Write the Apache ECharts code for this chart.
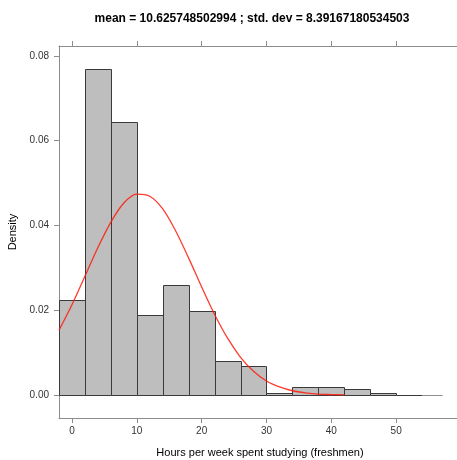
<!DOCTYPE html>
<html>
<head>
<meta charset="utf-8">
<script src="https://cdn.jsdelivr.net/npm/echarts@6/dist/echarts.min.js"></script>
<style>html,body{margin:0;padding:0;background:#fff;overflow:hidden;}#c{width:457px;height:460px;}</style>
</head>
<body>
<div id="c"></div>
<script>
// Histogram bins (hours per week) and densities
var binStarts = [-2, 2, 6, 10, 14, 18, 22, 26, 30, 34, 38, 42, 46, 50, 54];
var binEnds   = [ 2, 6, 10, 14, 18, 22, 26, 30, 34, 38, 42, 46, 50, 54, 57];
var densities = [0.0224, 0.0769, 0.0644, 0.0189, 0.0260, 0.0199, 0.0080, 0.0069, 0.0005, 0.0020, 0.0020, 0.0015, 0.0004, 0, 0];

// Red density curve
var curveX = [-2, 0, 2, 4, 6, 8, 10, 12, 14, 16, 18, 20, 22, 24, 26, 28, 30, 32, 34, 36, 38, 40, 42];
var curveY = [0.0153, 0.0213, 0.0280, 0.0348, 0.0408, 0.0453, 0.0474, 0.0469, 0.0439, 0.0387, 0.0323, 0.0255, 0.0190, 0.0134, 0.0089, 0.0056, 0.0033, 0.0019, 0.0010, 0.0005, 0.0002, 0.0001, 0.00004];

var xTicks = [0, 10, 20, 30, 40, 50];
var yTicks = [0, 0.02, 0.04, 0.06, 0.08];

var titleText = 'mean = 10.625748502994 ; std. dev = 8.39167180534503';
var xName = 'Hours per week spent studying (freshmen)';
var yName = 'Density';

var histData = binStarts.map(function (s, i) { return [s, binEnds[i], densities[i]]; });
var curveData = curveX.map(function (x, i) { return [x, curveY[i]]; });

var chart = echarts.init(document.getElementById('c'), null, {renderer: 'canvas'});
var font = 'Liberation Sans, Arial, Helvetica, sans-serif';
var axisCol = '#8c8c8c';
chart.setOption({
  animation: false,
  backgroundColor: '#ffffff',
  title: {
    text: titleText, left: 247, top: 8, textAlign: 'center',
    textStyle: {fontFamily: font, fontSize: 12, fontWeight: 'bold', color: '#000'}
  },
  grid: {left: 59, top: 46, right: -4, bottom: 42, containLabel: false, outerBoundsMode: 'none'},
  xAxis: [{
    type: 'value', min: -2, max: 60, position: 'bottom',
    splitLine: {show: false},
    axisLine: {show: true, onZero: false, lineStyle: {color: axisCol, width: 1}},
    axisTick: {show: true, length: 5, lineStyle: {color: axisCol}, customValues: xTicks},
    axisLabel: {show: true, customValues: xTicks, margin: 8, fontFamily: font, fontSize: 10, color: '#333'},
    name: xName, nameLocation: 'middle', nameGap: 29,
    nameTextStyle: {fontFamily: font, fontSize: 11, color: '#000'}
  }, {
    type: 'value', min: -2, max: 60, position: 'top',
    splitLine: {show: false},
    axisLine: {show: true, onZero: false, lineStyle: {color: axisCol, width: 1}},
    axisTick: {show: true, length: 5, lineStyle: {color: axisCol}, customValues: xTicks},
    axisLabel: {show: false}
  }],
  yAxis: [{
    type: 'value', min: -0.00543, max: 0.08236,
    splitLine: {show: false},
    axisLine: {show: true, onZero: false, lineStyle: {color: axisCol, width: 1}},
    axisTick: {show: true, length: 5, lineStyle: {color: axisCol}, customValues: yTicks},
    axisLabel: {show: true, customValues: yTicks, margin: 10, fontFamily: font, fontSize: 10, color: '#333',
      formatter: function (v) { return v.toFixed(2); }},
    name: yName, nameLocation: 'middle', nameGap: 34, nameRotate: 90,
    nameTextStyle: {fontFamily: font, fontSize: 11, color: '#000'}
  }],
  series: [{
    type: 'custom',
    xAxisIndex: 0, yAxisIndex: 0,
    data: histData,
    encode: {x: [0, 1], y: 2},
    z: 2,
    renderItem: function (params, api) {
      var s = api.value(0), e = api.value(1), h = api.value(2);
      var p0 = api.coord([s, 0]);
      var p1 = api.coord([e, h]);
      var last = params.dataIndex === binStarts.length - 1;
      var x0 = Math.round(p0[0]) + 0.5, x1 = Math.round(p1[0]) + 0.5;
      var y0 = Math.round(p0[1]) + 0.5, y1 = Math.round(p1[1]) + 0.5;
      return {
        type: 'rect',
        shape: {x: x0, y: y1, width: x1 - x0, height: y0 - y1},
        style: {fill: '#bebebe', stroke: last ? '#909090' : '#3a3a3a', lineWidth: 1}
      };
    }
  }, {
    type: 'line',
    xAxisIndex: 0, yAxisIndex: 0,
    data: curveData,
    smooth: 0.3,
    showSymbol: false,
    symbol: 'none',
    z: 5,
    lineStyle: {color: '#ff1a0a', width: 1.3, opacity: 0.85}
  }]
});
</script>
</body>
</html>
